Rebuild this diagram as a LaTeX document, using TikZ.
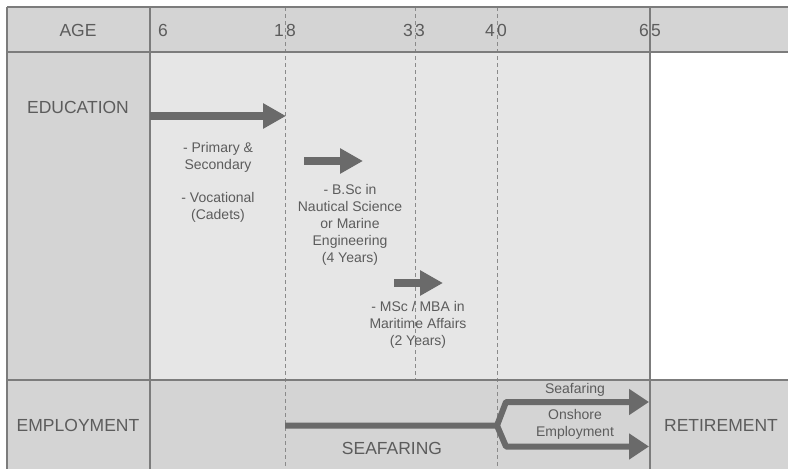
\documentclass[tikz,border=0pt]{standalone}
\usepackage{fontspec}
\setmainfont{Liberation Sans}
\usetikzlibrary{arrows.meta}
\definecolor{rowgray}{HTML}{D4D4D4}
\definecolor{edugray}{HTML}{E6E6E6}
\definecolor{linegray}{HTML}{7C7C7C}
\definecolor{dashgray}{HTML}{8A8A8A}
\definecolor{arrgray}{HTML}{6A6A6A}
\definecolor{txtgray}{HTML}{5C5C5C}
\tikzset{
  big/.style={text=txtgray, font=\fontsize{17.5}{20}\selectfont, inner sep=0pt, anchor=center},
  small/.style={text=txtgray, font=\fontsize{14}{17}\selectfont, align=center, inner sep=0pt, anchor=center},
  grid/.style={draw=linegray, line width=1.1pt},
  dashline/.style={draw=dashgray, line width=0.9pt, dash pattern=on 4pt off 3pt},
  eduarrow/.style={draw=arrgray, line width=8.5pt, -{Triangle[width=24pt,length=23pt]}},
  jobarrow/.style={draw=arrgray, line width=6pt, line join=round, -{Triangle[width=25pt,length=20pt]}},
}
\begin{document}
\begin{tikzpicture}[x=1pt,y=-1pt]
\useasboundingbox (0,0) rectangle (788,469);
% backgrounds
\fill[rowgray] (7,7) rectangle (788,52);
\fill[rowgray] (7,52) rectangle (150,380);
\fill[edugray] (150,52) rectangle (650,380);
\fill[white] (650,52) rectangle (788,380);
\fill[rowgray] (7,380) rectangle (788,469);
% dashed age lines
\draw[dashline] (285,7) -- (285,469);
\draw[dashline] (415,7) -- (415,380);
\draw[dashline] (497,7) -- (497,469);
% grid lines
\draw[grid] (7,7) -- (788,7);
\draw[grid] (7,7) -- (7,469);
\draw[grid] (7,52) -- (788,52);
\draw[grid] (7,380) -- (788,380);
\draw[grid] (150,7) -- (150,469);
\draw[grid] (650,7) -- (650,469);
% header labels
\node[big] (age) at (78,30) {AGE};
\node[big] (a6) at (163,30) {6};
\node[big] (a18) at (285,30) {1\hspace{2.5pt}8};
\node[big] (a33) at (414,30) {3\hspace{2.5pt}3};
\node[big] (a40) at (496,30) {4\hspace{2.5pt}0};
\node[big] (a65) at (650,30) {6\hspace{2.5pt}5};
% row labels
\node[big] (edu) at (78,107) {EDUCATION};
\node[big] (emp) at (78,425) {EMPLOYMENT};
\node[big] (ret) at (721,425) {RETIREMENT};
\node[big] (sea) at (392,448) {SEAFARING};
% education arrows
\coordinate (e1s) at (150,116);
\coordinate (e1e) at (286,116);
\coordinate (e2s) at (304,161);
\coordinate (e2e) at (363,161);
\coordinate (e3s) at (394,283);
\coordinate (e3e) at (443,283);
\draw[eduarrow] (e1s) -- (e1e);
\draw[eduarrow] (e2s) -- (e2e);
\draw[eduarrow] (e3s) -- (e3e);
% education texts
\node[small] (prim) at (218,157) {- Primary \&\\Secondary};
\node[small] (voc) at (218,207.5) {- Vocational\\(Cadets)};
\node[small] (bsc) at (350,224.5) {- B.Sc in\\Nautical Science\\or Marine\\Engineering\\(4 Years)};
\node[small] (msc) at (418,325) {- MSc / MBA in\\Maritime Affairs\\(2 Years)};
% employment arrows
\coordinate (js) at (285,425.5);
\coordinate (jf) at (497,425.5);
\coordinate (ju) at (506,402);
\coordinate (jd) at (506,446.5);
\coordinate (jue) at (649,402);
\coordinate (jde) at (649,446.5);
\draw[jobarrow] (js) -- (jf) -- (ju) -- (jue);
\draw[jobarrow] (jf) -- (jd) -- (jde);
\node[small] (sf) at (575,390) {Seafaring};
\node[small] (on) at (575,424.5) {Onshore\\Employment};
\end{tikzpicture}
\end{document}
